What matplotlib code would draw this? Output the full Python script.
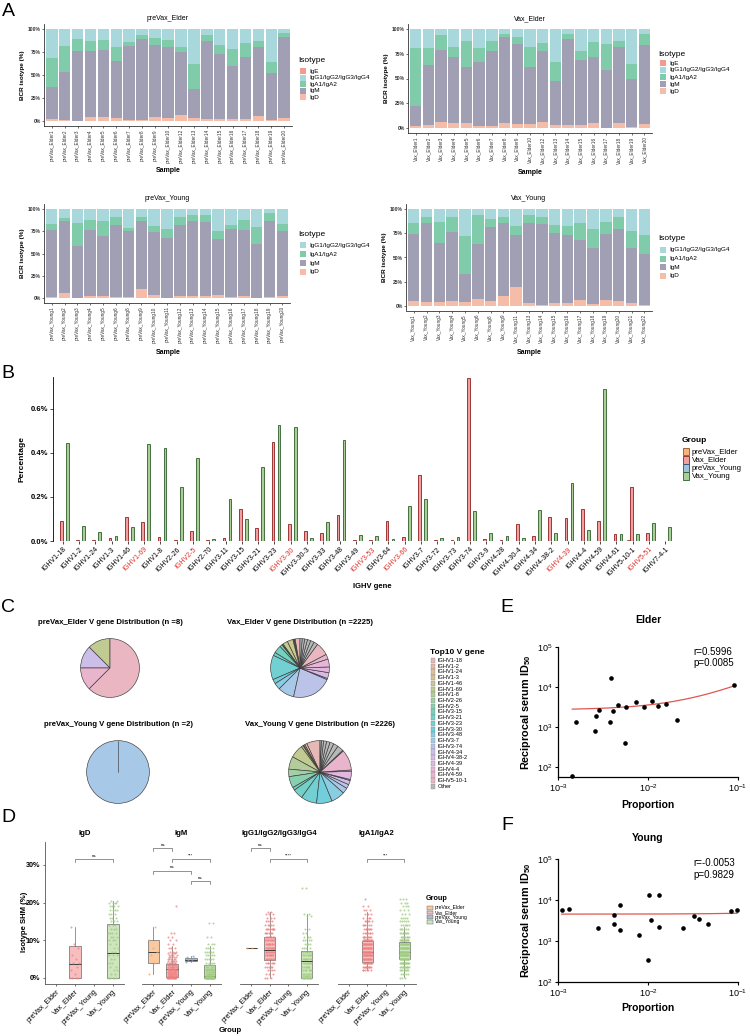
import numpy as np
import matplotlib
matplotlib.use("Agg")
import matplotlib.pyplot as plt
from matplotlib.patches import Rectangle

plt.rcParams['font.family'] = ['Liberation Sans', 'DejaVu Sans']
plt.rcParams['mathtext.default'] = 'regular'
plt.rcParams['axes.linewidth'] = 0.6

W, H = 750, 1036
fig = plt.figure(figsize=(W / 100, H / 100), dpi=100)
fig.patch.set_facecolor('white')


def ax_px(l, t, r, b):
    return fig.add_axes([l / W, 1 - b / H, (r - l) / W, (b - t) / H])


def txt(x, y, s, **kw):
    kw.setdefault('ha', 'center')
    kw.setdefault('va', 'center')
    return fig.text(x / W, 1 - y / H, s, **kw)


def rect_px(x, y, w, h, fc, ec='none', lw=0.4):
    fig.patches.append(Rectangle((x / W, 1 - (y + h) / H), w / W, h / H,
                                 transform=fig.transFigure, facecolor=fc,
                                 edgecolor=ec, linewidth=lw))

# ======================= DATA =======================
# ---- Panel A : isotype composition (IgD top, IgM top, IgA top in %; IgG fills to 100)
pe_ids = [1, 2, 3, 4, 5, 6, 7, 8, 9, 10, 12, 13, 14, 15, 16, 17, 18, 19, 20]
pe_igd = [2, 1, 0.5, 4, 4, 3, 1, 1, 4, 3, 6, 3, 2, 2, 2, 2, 5, 1, 3]
pe_igm_top = [37, 53, 76, 76, 77, 65, 82, 89, 83, 80, 75, 35, 87, 73, 60, 70, 80, 52, 91]
pe_iga_top = [69, 82, 89, 87, 88, 80, 86, 93, 90, 88, 80, 62, 93, 83, 78, 85, 87, 64, 96]

ve_ids = [1, 2, 3, 4, 5, 6, 7, 8, 9, 10, 12, 13, 14, 15, 16, 17, 18, 19, 20]
ve_igd = [2, 3, 6.5, 5.5, 5.5, 2.5, 2, 5, 4.5, 4, 6, 3, 3, 3.5, 5, 0.5, 5.5, 1.5, 4]
ve_igm_top = [22, 64, 79, 72, 62, 67, 78, 92, 85, 62, 78, 47, 90, 69, 72, 59, 82, 49, 84]
ve_iga_top = [81, 81, 93.5, 82, 87.5, 81, 88, 95, 92, 82, 86, 67, 95, 78, 87, 85, 88, 65, 95]

py_ids = [1, 2, 3, 4, 5, 6, 8, 9, 10, 11, 12, 13, 14, 15, 16, 17, 18, 19, 20]
py_igd = [1.5, 6, 0.5, 3, 2.5, 2, 2, 10, 4, 0.5, 2.5, 3, 3, 4, 1, 3, 0.5, 1.5, 3]
py_igm_top = [76, 87, 59, 76, 70, 82, 75, 87, 74, 68, 82, 87, 85, 66, 78, 77, 61, 87, 75]
py_iga_top = [83, 90, 84, 88, 86, 91, 79, 91, 81, 78, 91, 93, 93, 75, 82, 88, 80, 95, 83]

vy_ids = [1, 2, 3, 4, 5, 6, 8, 9, 11, 13, 14, 15, 16, 17, 18, 19, 20, 21, 22]
vy_igd = [4.5, 4, 4, 4.5, 4, 7, 5, 10, 19, 3, 1, 3, 3, 6, 2, 6, 5, 2.5, 0.5]
vy_igm_top = [74, 86, 65, 76, 33, 64, 82, 86, 73, 86, 85, 75, 73, 68, 60, 74, 80, 60, 54]
vy_iga_top = [86, 92, 87, 92, 72, 94, 90, 92, 83, 94, 92, 84, 83, 86, 80, 87, 92, 78, 73]

# ---- Panel B : IGHV gene usage (%)
genes = ['IGHV1-18', 'IGHV1-2', 'IGHV1-24', 'IGHV1-3', 'IGHV1-46', 'IGHV1-69', 'IGHV1-8',
         'IGHV2-26', 'IGHV2-5', 'IGHV2-70', 'IGHV3-11', 'IGHV3-15', 'IGHV3-21', 'IGHV3-23',
         'IGHV3-30', 'IGHV3-30-3', 'IGHV3-33', 'IGHV3-48', 'IGHV3-49', 'IGHV3-53', 'IGHV3-64',
         'IGHV3-66', 'IGHV3-7', 'IGHV3-72', 'IGHV3-73', 'IGHV3-74', 'IGHV3-9', 'IGHV4-28',
         'IGHV4-30-4', 'IGHV4-34', 'IGHV4-38-2', 'IGHV4-39', 'IGHV4-4', 'IGHV4-59', 'IGHV4-61',
         'IGHV5-10-1', 'IGHV5-51', 'IGHV7-4-1']
red_genes = ['IGHV1-69', 'IGHV2-5', 'IGHV3-30', 'IGHV3-53', 'IGHV3-66', 'IGHV4-39', 'IGHV5-51']
b_pre_elder = [0, 0, 0, 0, 0, 0.002, 0, 0, 0, 0, 0, 0, 0, 0, 0, 0, 0, 0, 0, 0, 0, 0, 0, 0,
               0, 0, 0, 0, 0, 0.002, 0, 0, 0, 0.002, 0, 0.004, 0, 0]
b_vax_elder = [0.089, 0.005, 0.003, 0.013, 0.108, 0.086, 0.016, 0.003, 0.044, 0.005, 0.013,
               0.144, 0.059, 0.448, 0.078, 0.044, 0.035, 0.12, 0.003, 0.003, 0.093, 0.018,
               0.30, 0.006, 0.004, 0.74, 0.007, 0.004, 0.078, 0.021, 0.108, 0.104, 0.146,
               0.089, 0.03, 0.244, 0.036, 0.002]
b_pre_young = [0, 0, 0, 0, 0, 0, 0, 0, 0, 0, 0, 0, 0, 0, 0, 0, 0, 0, 0, 0, 0, 0, 0.002, 0,
               0, 0, 0, 0, 0, 0, 0, 0, 0, 0, 0, 0, 0, 0]
b_vax_young = [0.447, 0.068, 0.039, 0.024, 0.063, 0.442, 0.423, 0.247, 0.377, 0.008, 0.19,
               0.098, 0.338, 0.525, 0.519, 0.012, 0.086, 0.457, 0.027, 0.024, 0.01, 0.158,
               0.19, 0.012, 0.02, 0.137, 0.036, 0.021, 0.012, 0.143, 0.036, 0.265, 0.051,
               0.69, 0.033, 0.033, 0.084, 0.063]

# ---- Panel C : top V gene pie counts (legend order) + "Other" pieces
top_genes = ['IGHV1-18', 'IGHV1-2', 'IGHV1-24', 'IGHV1-3', 'IGHV1-46', 'IGHV1-69', 'IGHV1-8',
             'IGHV2-26', 'IGHV2-5', 'IGHV3-15', 'IGHV3-21', 'IGHV3-23', 'IGHV3-30', 'IGHV3-48',
             'IGHV3-7', 'IGHV3-74', 'IGHV4-34', 'IGHV4-38-2', 'IGHV4-39', 'IGHV4-4', 'IGHV4-59',
             'IGHV5-10-1']
pie_pe = [0, 0, 0, 0, 0, 1, 0, 0, 0, 0, 0, 0, 0, 0, 0, 0, 1, 0, 0, 0, 1, 5]
pie_pe_other = []
pie_ve = [60, 10, 8, 10, 70, 60, 12, 5, 30, 95, 40, 300, 55, 80, 200, 490, 15, 72, 70, 97, 60, 160]
pie_ve_other = [50, 45, 40, 35, 30, 26]
pie_py = [0, 0, 0, 0, 0, 0, 0, 0, 0, 0, 0, 0, 0, 0, 2, 0, 0, 0, 0, 0, 0, 0]
pie_py_other = []
pie_vy = [155, 25, 14, 9, 22, 153, 146, 86, 131, 34, 117, 182, 179, 158, 65, 47, 49, 12, 91,
          18, 237, 11]
pie_vy_other = [70, 55, 45, 40, 35, 25, 15]

# ---- Panel D : SHM (%) box statistics (median, q1, q3, low whisker, high whisker) + points
igd_ve_box = [3.8, 0, 8.5, 0, 13.5]
igd_ve_lv = [0, 1, 2, 3, 4, 5, 6, 8, 9, 13.5]
igd_ve_ct = [4, 1, 1, 1, 2, 1, 1, 1, 1, 1]
igd_vy_box = [6.5, 0, 14.2, 0, 20.5]
igd_vy_lv = [0, 1, 2, 3, 4, 5, 6, 7, 8, 9, 10, 11, 12, 13, 14, 15, 16, 17, 18, 19, 20, 20.5]
igd_vy_ct = [6, 2, 2, 2, 2, 2, 3, 2, 2, 2, 3, 3, 4, 3, 3, 3, 3, 3, 4, 4, 4, 2]

igm_pe_box = [7, 4, 10, 1, 13.5]
igm_pe_lv = [1, 4, 6, 7, 8, 10, 13.5]
igm_pe_ct = [1, 1, 1, 1, 1, 1, 1]
igm_ve_box = [2.5, 0.3, 3.8, 0, 8.5]
igm_ve_lv = [0, 0.5, 1, 1.5, 2, 2.5, 3, 3.5, 4, 4.5, 5, 5.5, 6, 6.5, 7, 8, 9, 10, 11, 12, 19]
igm_ve_ct = [15, 12, 12, 10, 10, 10, 9, 8, 7, 6, 5, 5, 4, 4, 3, 3, 2, 2, 2, 2, 1]
igm_py_box = [4.8, 4.4, 5.4, 4.2, 5.8]
igm_py_lv = [4.2, 4.8, 5.2, 5.5, 5.8]
igm_py_ct = [1, 2, 2, 1, 1]
igm_vy_box = [0.5, 0, 3.5, 0, 8.5]
igm_vy_lv = [0, 0.5, 1, 1.5, 2, 2.5, 3, 3.5, 4, 5, 6, 7, 8, 9, 11, 14.5]
igm_vy_ct = [25, 15, 10, 8, 8, 7, 6, 5, 5, 5, 5, 5, 4, 3, 2, 2]

igg_pe_box = [8, 8, 8, 8, 8]
igg_pe_lv = [8]
igg_pe_ct = [2]
igg_ve_box = [7.5, 4.8, 11, 0, 17.5]
igg_ve_lv = [0, 1, 2, 3, 4, 5, 6, 7, 8, 9, 10, 11, 12, 13, 14, 15, 16, 17, 17.5]
igg_ve_ct = [3, 3, 4, 5, 7, 8, 9, 10, 10, 9, 9, 8, 7, 9, 5, 4, 3, 3, 2]
igg_vy_box = [4.5, 0, 7.2, 0, 17]
igg_vy_lv = [0, 0.5, 1, 2, 3, 4, 5, 6, 7, 8, 9, 10, 11, 12, 13, 16.5, 17, 24]
igg_vy_ct = [12, 6, 6, 6, 6, 8, 8, 7, 6, 4, 4, 4, 3, 2, 2, 2, 2, 2]

iga_ve_box = [7, 4.2, 9.8, 2, 17.5]
iga_ve_lv = [2, 3, 4, 5, 6, 7, 8, 9, 10, 11, 12, 13, 14, 15, 16, 17, 18, 19, 21]
iga_ve_ct = [6, 10, 14, 16, 18, 20, 18, 16, 14, 10, 8, 7, 6, 5, 4, 3, 3, 2, 1]
iga_vy_box = [6.9, 5, 9.6, 0.3, 13.6]
iga_vy_lv = [0, 1, 2, 3, 4, 5, 6, 7, 8, 9, 10, 11, 12, 13, 14, 15, 16, 17, 18, 19, 20, 21]
iga_vy_ct = [3, 5, 8, 12, 16, 20, 22, 22, 20, 18, 14, 10, 8, 6, 6, 5, 4, 3, 3, 3, 3, 3]

# ---- Panel E / F : proportion vs reciprocal serum ID50
e_prop = [0.00157, 0.00258, 0.00262, 0.00286, 0.00378, 0.00385, 0.0041, 0.0046, 0.00555,
          0.00565, 0.00735, 0.0091, 0.011, 0.013, 0.0157, 0.021, 0.091, 0.00144]
e_id50 = [1320, 810, 1880, 2660, 1330, 17000, 2580, 3600, 400, 3160, 4300, 3100, 4350, 3350,
          3700, 1500, 11200, 60]
f_prop = [0.0011, 0.00134, 0.00276, 0.00416, 0.00416, 0.00485, 0.00492, 0.008, 0.0101, 0.0102,
          0.0108, 0.0132, 0.0133, 0.0246, 0.0325, 0.0367, 0.046, 0.084, 0.098]
f_id50 = [5620, 6200, 2110, 2620, 4400, 1850, 7600, 1380, 340, 12900, 3300, 13300, 2180, 2110,
          4060, 3400, 2580, 5400, 5600]

# ======================= STYLE =======================
C_IGE, C_IGG, C_IGA, C_IGM, C_IGD = '#F29A8E', '#A9D8DC', '#7FCBAA', '#A09FB4', '#F5BDA7'
GRP = ['preVax_Elder', 'Vax_Elder', 'preVax_Young', 'Vax_Young']
GRP_FILL = ['#F6B47C', '#EFA0A0', '#9DC2DE', '#A9CF97']
GRP_EDGE = ['#8A5526', '#8E1F1F', '#2B4F70', '#2E5E2C']
BOX_FILL = ['#FAC9A0', '#F6BEBE', '#AFBBCC', '#CFE5BE']
PT_COL = ['#F3A66A', '#EE8282', '#8A9BB6', '#9FCB82']

# ======================= PANEL A =======================
def iso_panel(box, title, prefix, ids, igd, igm_top, iga_top, leg_x, leg_ty, leg_ys,
              with_ige, sample_xy):
    ax = ax_px(*box)
    n = len(ids)
    x = np.arange(n)
    d = np.asarray(igd, float)
    m = np.asarray(igm_top, float)
    a = np.asarray(iga_top, float)
    ax.bar(x, d, 0.9, color=C_IGD, linewidth=0)
    ax.bar(x, m - d, 0.9, bottom=d, color=C_IGM, linewidth=0)
    ax.bar(x, a - m, 0.9, bottom=m, color=C_IGA, linewidth=0)
    ax.bar(x, 100 - a, 0.9, bottom=a, color=C_IGG, linewidth=0)
    ax.set_xlim(-0.6, n - 0.4)
    ax.set_ylim(-5, 105)
    ax.set_yticks([0, 25, 50, 75, 100])
    ax.set_yticklabels(['0%', '25%', '50%', '75%', '100%'], fontsize=3.6,
                       fontweight='bold', color='#333333')
    ax.set_xticks(x)
    ax.set_xticklabels([prefix + str(i) for i in ids], rotation=90, fontsize=3.4,
                       color='#333333')
    for s in ['top', 'right']:
        ax.spines[s].set_visible(False)
    for s in ['left', 'bottom']:
        ax.spines[s].set_color('#333333')
        ax.spines[s].set_linewidth(0.6)
    ax.tick_params(length=1.5, width=0.4, pad=1)
    ax.set_title(title, fontsize=5, pad=3)
    ax.set_ylabel('BCR isotype (%)', fontsize=4.6, fontweight='bold', labelpad=2)
    txt(sample_xy[0], sample_xy[1], 'Sample', fontsize=5, fontweight='bold')
    labs = ['IgE', 'IgG1/IgG2/IgG3/IgG4', 'IgA1/IgA2', 'IgM', 'IgD']
    cols = [C_IGE, C_IGG, C_IGA, C_IGM, C_IGD]
    if not with_ige:
        labs, cols = labs[1:], cols[1:]
    txt(leg_x - 2, leg_ty, 'Isotype', fontsize=6, ha='left')
    for yy, lab, col in zip(leg_ys, labs, cols):
        rect_px(leg_x, yy - 3, 5.5, 6, col)
        txt(leg_x + 9, yy, lab, fontsize=4.6, ha='left')


iso_panel((44, 24.4, 292, 125.6), 'preVax_Elder', 'preVax_Elder', pe_ids, pe_igd,
          pe_igm_top, pe_iga_top, 300, 61, [71, 77.5, 84, 90.5, 97], True, (168, 171))
iso_panel((408, 24, 652, 133), 'Vax_Elder', 'Vax_Elder', ve_ids, ve_igd, ve_igm_top,
          ve_iga_top, 660, 55, [63, 70, 77, 84, 91], True, (530, 172))
iso_panel((44, 204.5, 290, 302.8), 'preVax_Young', 'preVax_Young', py_ids, py_igd,
          py_igm_top, py_iga_top, 300, 235, [245, 254, 263, 272], False, (168, 353))
iso_panel((406, 204.5, 652, 310.5), 'Vax_Young', 'Vax_Young', vy_ids, vy_igd, vy_igm_top,
          vy_iga_top, 660, 238, [250, 258.5, 267, 275.5], False, (529, 353))

# ======================= PANEL B =======================
axb = ax_px(53, 377, 675, 541)
xg = np.arange(1, len(genes) + 1)
bw = 0.185
series = [b_pre_elder, b_vax_elder, b_pre_young, b_vax_young]
for k, vals in enumerate(series):
    axb.bar(xg + (k - 1.5) * bw, vals, bw * 0.9, color=GRP_FILL[k], edgecolor=GRP_EDGE[k],
            linewidth=0.6)
axb.set_xlim(0.4, len(genes) + 0.6)
axb.set_ylim(0, 0.745)
axb.set_yticks([0, 0.2, 0.4, 0.6])
axb.set_yticklabels(['0.0%', '0.2%', '0.4%', '0.6%'], fontsize=5.5, fontweight='bold')
axb.set_xticks(xg)
tl = axb.set_xticklabels(genes, rotation=45, ha='right', rotation_mode='anchor', fontsize=5)
for t in tl:
    if t.get_text() in red_genes:
        t.set_color('#E0302A')
for s in ['top', 'right', 'bottom']:
    axb.spines[s].set_visible(False)
axb.spines['left'].set_linewidth(0.6)
axb.tick_params(length=2, width=0.5, pad=1.5)
txt(22, 459, 'Percentage', fontsize=6, fontweight='bold', rotation=90)
txt(372, 587, 'IGHV gene', fontsize=5.5, fontweight='bold')
txt(682, 441, 'Group', fontsize=6, fontweight='bold', ha='left')
for k, g in enumerate(GRP):
    yy = 452 + k * 8
    rect_px(683, yy - 3.5, 6, 7, GRP_FILL[k], GRP_EDGE[k], 0.6)
    txt(692, yy, g, fontsize=5.6, ha='left')

# ======================= PANEL C =======================
def hue_pal(n, l=62, c=60, alpha=0.55):
    hs = np.linspace(15, 375, n + 1)[:-1]
    Xn, Yn, Zn = 95.047, 100.0, 108.883
    un = 4 * Xn / (Xn + 15 * Yn + 3 * Zn)
    vn = 9 * Yn / (Xn + 15 * Yn + 3 * Zn)
    Y = Yn * ((l + 16) / 116) ** 3
    M = np.array([[3.2406, -1.5372, -0.4986], [-0.9689, 1.8758, 0.0415],
                  [0.0557, -0.2040, 1.0570]])
    out = []
    for h in hs:
        u = c * np.cos(np.radians(h))
        v = c * np.sin(np.radians(h))
        up = u / (13 * l) + un
        vp = v / (13 * l) + vn
        X = Y * 9 * up / (4 * vp)
        Z = Y * (12 - 3 * up - 20 * vp) / (4 * vp)
        rgb = M @ np.array([X, Y, Z]) / 100
        rgb = np.clip(rgb, 0, None)
        rgb = np.where(rgb <= 0.0031308, 12.92 * rgb, 1.055 * rgb ** (1 / 2.4) - 0.055)
        rgb = np.clip(rgb, 0, 1)
        out.append(tuple(1 - alpha * (1 - rgb)))
    return out


gene_cols = hue_pal(len(top_genes))
OTHER_COL = '#B8B8B8'


def pie_panel(cx, cy, r, counts, others, title, ty):
    ax = ax_px(cx - r, cy - r, cx + r, cy + r)
    vals, cols = [], []
    for cnt, col in zip(counts, gene_cols):
        if cnt > 0:
            vals.append(cnt)
            cols.append(col)
    for o in others:
        vals.append(o)
        cols.append(OTHER_COL)
    ax.pie(vals, colors=cols, startangle=90, counterclock=True, radius=1,
           wedgeprops=dict(edgecolor='#3a3a3a', linewidth=0.45))
    if len(vals) == 1:
        ax.plot([0, 0], [0, 1], color='#3a3a3a', lw=0.45)
    ax.set_xlim(-1.02, 1.02)
    ax.set_ylim(-1.02, 1.02)
    ax.set_aspect('equal')
    ax.axis('off')
    txt(cx, ty, title, fontsize=5.6, fontweight='bold')


pie_panel(110, 668, 30, pie_pe, pie_pe_other,
          'preVax_Elder V gene Distribution (n =%d)' % (sum(pie_pe) + sum(pie_pe_other)), 623)
pie_panel(300, 668, 30, pie_ve, pie_ve_other,
          'Vax_Elder V gene Distribution (n =%d)' % (sum(pie_ve) + sum(pie_ve_other)), 623)
pie_panel(118, 772, 32, pie_py, pie_py_other,
          'preVax_Young V gene Distribution (n =%d)' % (sum(pie_py) + sum(pie_py_other)), 724)
pie_panel(320, 772, 32, pie_vy, pie_vy_other,
          'Vax_Young V gene Distribution (n =%d)' % (sum(pie_vy) + sum(pie_vy_other)), 724)

txt(430, 652, 'Top10 V gene', fontsize=6, fontweight='bold', ha='left')
for i, (g, col) in enumerate(zip(top_genes + ['Other'], gene_cols + [OTHER_COL])):
    yy = 660.5 + i * 5.72
    rect_px(431, yy - 2.6, 4, 5.2, col, '#777777', 0.2)
    txt(437.5, yy, g, fontsize=4.1, ha='left')

# ======================= PANEL D =======================
def jitter_pts(ax, xpos, lv, ct, color):
    ys = np.repeat(np.asarray(lv, float), ct)
    n = len(ys)
    offs = (((np.arange(n) * 0.618034) % 1.0) - 0.5) * 0.5
    ax.scatter(xpos + offs, ys, s=2.2, color=color, alpha=0.75, linewidths=0, zorder=3)


def shm_panel(box, title, items, brackets, first):
    ax = ax_px(*box)
    for gi, st, lv, ct in items:
        med, q1, q3, lo, hi = st
        stats = [dict(med=med, q1=q1, q3=q3, whislo=lo, whishi=hi, fliers=[])]
        ax.bxp(stats, positions=[gi + 1], widths=0.6, patch_artist=True, showfliers=False,
               boxprops=dict(facecolor=BOX_FILL[gi], edgecolor='#6b6b6b', linewidth=0.5),
               medianprops=dict(color='#3a3a3a', linewidth=0.7),
               whiskerprops=dict(color='#6b6b6b', linewidth=0.5),
               capprops=dict(linewidth=0))
        jitter_pts(ax, gi + 1, lv, ct, PT_COL[gi])
    for a, b, y, lab in brackets:
        ax.plot([a, a, b, b], [y - 0.8, y, y, y - 0.8], color='#555555', lw=0.45)
        ax.text((a + b) / 2, y + 0.4, lab, ha='center', va='bottom', fontsize=3.2)
    ax.set_xlim(0.4, 4.6)
    ax.set_ylim(-1.6, 36.1)
    ax.set_xticks([1, 2, 3, 4])
    ax.set_xticklabels(GRP, rotation=45, ha='right', rotation_mode='anchor', fontsize=5.2)
    for s in ['top', 'right']:
        ax.spines[s].set_visible(False)
    ax.spines['bottom'].set_color('#555555')
    ax.spines['bottom'].set_linewidth(0.6)
    if first:
        ax.spines['left'].set_color('#555555')
        ax.spines['left'].set_linewidth(0.6)
        ax.set_yticks([0, 10, 20, 30])
        ax.set_yticklabels(['0%', '10%', '20%', '30%'], fontsize=5.2, fontweight='bold')
    else:
        ax.spines['left'].set_visible(False)
        ax.set_yticks([])
    ax.tick_params(length=1.5, width=0.4, pad=1.5)
    ax.set_title(title, fontsize=5.6, fontweight='bold', pad=5)
    ax.patch.set_alpha(0)


shm_panel((44.6, 842, 124.4, 984), 'IgD',
          [(1, igd_ve_box, igd_ve_lv, igd_ve_ct), (3, igd_vy_box, igd_vy_lv, igd_vy_ct)],
          [(2, 4, 31.5, 'ns')], True)
shm_panel((142, 842, 221, 984), 'IgM',
          [(0, igm_pe_box, igm_pe_lv, igm_pe_ct), (1, igm_ve_box, igm_ve_lv, igm_ve_ct),
           (2, igm_py_box, igm_py_lv, igm_py_ct), (3, igm_vy_box, igm_vy_lv, igm_vy_ct)],
          [(1, 2, 34.5, 'ns'), (2, 4, 31.5, '***'), (1, 3, 28.5, 'ns'), (3, 4, 25.7, 'ns')],
          False)
shm_panel((240, 842, 318, 984), 'IgG1/IgG2/IgG3/IgG4',
          [(0, igg_pe_box, igg_pe_lv, igg_pe_ct), (1, igg_ve_box, igg_ve_lv, igg_ve_ct),
           (3, igg_vy_box, igg_vy_lv, igg_vy_ct)],
          [(1, 2, 34.5, 'ns'), (2, 4, 31.5, '****')], False)
shm_panel((337.5, 842, 415.5, 984), 'IgA1/IgA2',
          [(1, iga_ve_box, iga_ve_lv, iga_ve_ct), (3, iga_vy_box, iga_vy_lv, iga_vy_ct)],
          [(2, 4, 31.5, '***')], False)

txt(24, 922, 'Isotype SHM (%)', fontsize=5.6, fontweight='bold', rotation=90)
txt(230, 1030, 'Group', fontsize=5.6, fontweight='bold')
txt(426, 899, 'Group', fontsize=5.2, fontweight='bold', ha='left')
for k, g in enumerate(GRP):
    yy = 908 + k * 4.6
    rect_px(427.5, yy - 1.8, 5, 3.6, BOX_FILL[k], '#555555', 0.3)
    txt(435, yy, g, fontsize=3.6, ha='left')

# ======================= PANEL E / F =======================
def sci_panel(box, title, title_y, xs, ys, ylim, rtxt, ptxt, r_y, prop_y):
    ax = ax_px(*box)
    ax.set_xscale('log')
    ax.set_yscale('log')
    xs = np.asarray(xs, float)
    ys = np.asarray(ys, float)
    k, b0 = np.polyfit(xs, ys, 1)
    xx = np.geomspace(xs.min(), xs.max(), 300)
    ax.plot(xx, k * xx + b0, color='#E0574E', lw=0.9, zorder=2)
    ax.scatter(xs, ys, s=11, color='black', linewidths=0, zorder=3, clip_on=False)
    ax.set_xlim(1e-3, 1e-1)
    ax.set_ylim(*ylim)
    ax.set_xticks([1e-3, 1e-2, 1e-1])
    ax.set_xticklabels(['$10^{-3}$', '$10^{-2}$', '$10^{-1}$'], fontsize=6.5)
    ax.set_yticks([1e2, 1e3, 1e4, 1e5])
    ax.set_yticklabels(['$10^{2}$', '$10^{3}$', '$10^{4}$', '$10^{5}$'], fontsize=6.5)
    ax.minorticks_off()
    for s in ['top', 'right']:
        ax.spines[s].set_visible(False)
    for s in ['left', 'bottom']:
        ax.spines[s].set_linewidth(0.9)
    ax.tick_params(length=2.5, width=0.8, pad=1.5)
    txt(648, title_y, title, fontsize=7.5, fontweight='bold')
    txt(648, prop_y, 'Proportion', fontsize=7.5, fontweight='bold')
    ymid = (box[1] + box[3]) / 2
    txt(526, ymid, 'Reciprocal serum ID$_{50}$', fontsize=7.8, fontweight='bold', rotation=90)
    txt(693, r_y, rtxt, fontsize=7, ha='left')
    txt(693, r_y + 11.5, ptxt, fontsize=7, ha='left')


sci_panel((558, 647, 738, 777), 'Elder', 620, e_prop, e_id50, (10 ** 1.75, 1e5),
          'r=0.5996', 'p=0.0085', 652, 805)
sci_panel((558, 859, 738, 982), 'Young', 838, f_prop, f_id50, (1e2, 1e5),
          'r=-0.0053', 'p=0.9829', 863, 1008)

# ======================= PANEL LABELS =======================
for lab, x, y in [('A', 8, 12), ('B', 8, 373), ('C', 8, 607), ('D', 8, 818),
                  ('E', 507, 607), ('F', 507, 825)]:
    txt(x, y, lab, fontsize=14, ha='center')

fig.savefig('out.png', dpi=100, facecolor='white')
